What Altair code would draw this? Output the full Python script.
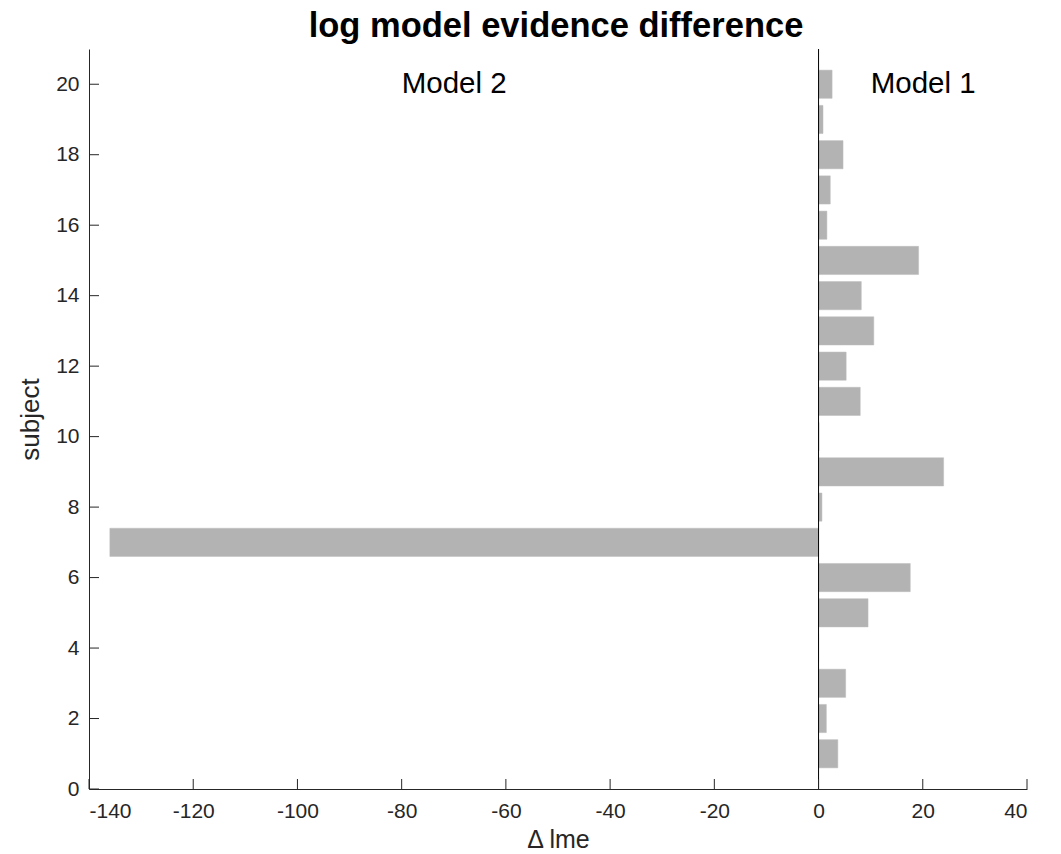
import altair as alt
import pandas as pd

subjects = list(range(1, 21))
delta_lme = [3.7, 1.5, 5.2, 0.0, 9.5, 17.6, -136.0, 0.65, 24.0, 0.1,
             8.0, 5.3, 10.6, 8.2, 19.2, 1.6, 2.25, 4.7, 0.85, 2.6]

x_ticks = [-140, -120, -100, -80, -60, -40, -20, 0, 20, 40]
y_ticks = [0, 2, 4, 6, 8, 10, 12, 14, 16, 18, 20]

label_text = ["Model 2", "Model 1"]
label_x = [-80, 10]
label_y = [20, 20]

title_text = "log model evidence difference"

W, H = 938, 740
AX = "#262626"
FONT = "Liberation Sans"

bars_df = pd.DataFrame({"subject": subjects, "lme": delta_lme})
xt_df = pd.DataFrame({"t": x_ticks})
yt_df = pd.DataFrame({"t": y_ticks})
lab_df = pd.DataFrame({"text": label_text, "x": label_x, "y": label_y})

xscale = alt.Scale(domain=[-140, 40], nice=False, zero=False)
yscale = alt.Scale(domain=[0, 21], nice=False, zero=False)

bars = alt.Chart(bars_df).transform_calculate(
    y0="datum.subject - 0.4", y1="datum.subject + 0.4", zero="0"
).mark_bar(color="#b3b3b3", stroke="#bdbdbd", strokeWidth=0.5).encode(
    x=alt.X("lme:Q", scale=xscale,
            axis=alt.Axis(values=x_ticks, title="Δ lme", ticks=False, grid=False,
                          labelExpr="datum.value + ''",
                          domainColor=AX, domainWidth=1, labelColor=AX,
                          labelFont=FONT, labelFontSize=21, labelPadding=11,
                          titleFont=FONT, titleFontSize=25, titleFontWeight="normal",
                          titleColor=AX, titlePadding=6)),
    x2="zero:Q",
    y=alt.Y("y0:Q", scale=yscale,
            axis=alt.Axis(values=y_ticks, title="subject", ticks=False, grid=False,
                          labelExpr="datum.value + ''",
                          domainColor=AX, domainWidth=1, labelColor=AX,
                          labelFont=FONT, labelFontSize=21, labelPadding=10,
                          titleFont=FONT, titleFontSize=26, titleFontWeight="normal",
                          titleColor=AX, titlePadding=12)),
    y2="y1:Q",
)

xticks = alt.Chart(xt_df).mark_rule(color=AX, strokeWidth=1).encode(
    x=alt.X("t:Q", scale=xscale),
    y=alt.value(H),
    y2=alt.value(H - 10),
)

yticks = alt.Chart(yt_df).mark_rule(color=AX, strokeWidth=1).encode(
    y=alt.Y("t:Q", scale=yscale),
    x=alt.value(0),
    x2=alt.value(10),
)

zero_line = alt.Chart(pd.DataFrame({"z": [0]})).mark_rule(color="black", strokeWidth=1).encode(
    x=alt.X("z:Q", scale=xscale),
    y=alt.value(0),
    y2=alt.value(H),
)

labels = alt.Chart(lab_df).mark_text(
    align="left", baseline="middle", font=FONT, fontSize=29.5, color="black"
).encode(
    x=alt.X("x:Q", scale=xscale),
    y=alt.Y("y:Q", scale=yscale),
    text="text:N",
)

title = alt.Chart(pd.DataFrame({"text": [title_text]})).mark_text(
    align="center", baseline="alphabetic", font=FONT, fontSize=34.5,
    fontWeight="bold", color="black"
).encode(
    x=alt.value(W / 2 - 2),
    y=alt.value(-12),
    text="text:N",
)

chart = alt.layer(bars, zero_line, xticks, yticks, labels, title).properties(
    width=W, height=H,
    padding={"left": 89, "top": 49, "right": 34, "bottom": 65},
    autosize=alt.AutoSizeParams(type="none"),
).configure(background="white").configure_view(stroke=None)

chart.save("out.html", embed_options={"renderer": "svg", "actions": False})
